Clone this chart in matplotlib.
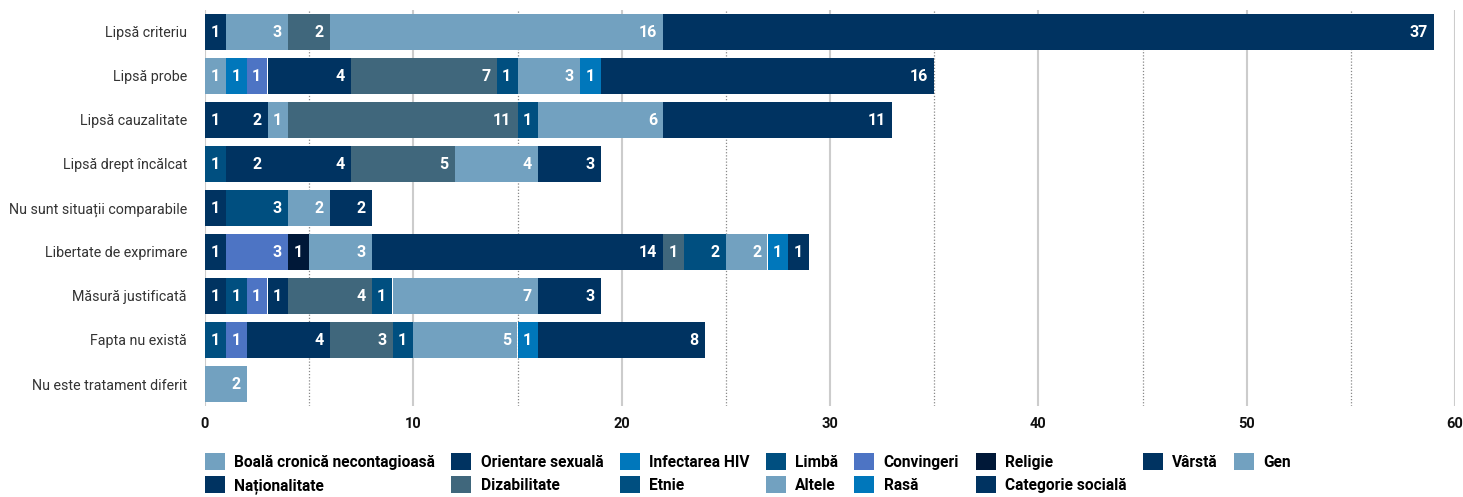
import matplotlib
matplotlib.use("Agg")
import matplotlib.pyplot as plt
from matplotlib.patches import Patch
from matplotlib.font_manager import FontProperties
from matplotlib.textpath import TextPath
import numpy as np

categories = ["Lipsă criteriu", "Lipsă probe", "Lipsă cauzalitate", "Lipsă drept încălcat",
              "Nu sunt situații comparabile", "Libertate de exprimare", "Măsură justificată",
              "Fapta nu există", "Nu este tratament diferit"]

series_names = ["Boală cronică necontagioasă", "Orientare sexuală", "Infectarea HIV", "Limbă",
                "Convingeri", "Religie", "Vârstă", "Gen", "Naționalitate", "Dizabilitate",
                "Etnie", "Altele", "Rasă", "Categorie socială"]

boala = [0, 1, 0, 0, 0, 0, 0, 0, 0]
orientare = [1, 0, 1, 0, 1, 1, 1, 0, 0]
hiv = [0, 1, 0, 0, 0, 0, 0, 0, 0]
limba = [0, 0, 0, 1, 3, 0, 1, 1, 0]
convingeri = [0, 1, 0, 0, 0, 3, 1, 1, 0]
religie = [0, 0, 0, 0, 0, 1, 0, 0, 0]
varsta = [0, 4, 2, 2, 0, 0, 1, 4, 0]
gen = [3, 0, 1, 0, 0, 3, 0, 0, 0]
nationalitate = [0, 0, 0, 4, 0, 14, 0, 0, 0]
dizabilitate = [2, 7, 11, 5, 0, 1, 4, 3, 0]
etnie = [0, 1, 1, 0, 0, 2, 1, 1, 0]
altele = [16, 3, 6, 4, 2, 2, 7, 5, 2]
rasa = [0, 1, 0, 0, 0, 1, 0, 1, 0]
categorie = [37, 16, 11, 3, 2, 1, 3, 8, 0]

series_values = [boala, orientare, hiv, limba, convingeri, religie, varsta, gen,
                 nationalitate, dizabilitate, etnie, altele, rasa, categorie]

LIGHT = "#72a1c0"
NAVY = "#003361"
BRIGHT = "#0077bb"
MED = "#004f80"
PERI = "#4d74c4"
VDARK = "#001838"
SLATE = "#40677c"
colors = [LIGHT, NAVY, BRIGHT, MED, PERI, VDARK, NAVY, LIGHT, NAVY, SLATE, MED, LIGHT, BRIGHT, NAVY]

FONT = "Roboto"
plt.rcParams["font.family"] = [FONT, "DejaVu Sans"]
DPI = 100


def fit_size(text, target_px, weight="normal"):
    # font size (pt) so that text is about target_px wide
    fp = FontProperties(family=FONT, weight=weight, size=10)
    w = TextPath((0, 0), text, prop=fp).get_extents().width  # in points at size 10
    w_px = w * DPI / 72.0
    return 10 * target_px / w_px


ylab_size = fit_size("Nu sunt situații comparabile", 176)
leg_size = fit_size("Boală cronică necontagioasă", 200, weight="bold")

fig = plt.figure(figsize=(14.63, 4.97), dpi=DPI)
ax = fig.add_axes([205 / 1463, 1 - 406 / 497, 1250 / 1463, 396 / 497])

y = np.arange(len(categories))
left = np.zeros(len(categories))
for name, vals, col in zip(series_names, series_values, colors):
    vals = np.array(vals, dtype=float)
    ax.barh(y, vals, left=left, height=0.84, color=col, label=name, zorder=3)
    for yi, (l, v) in enumerate(zip(left, vals)):
        if v > 0:
            ax.text(l + v - 0.3, yi + 0.02, f"{int(v)}", ha="right", va="center", color="white",
                    fontsize=11.5, fontweight="bold", zorder=4)
    left += vals

ax.set_xlim(0, 60)
ax.set_ylim(len(categories) - 0.5, -0.5)
ax.set_yticks(y)
ax.set_yticklabels(categories, fontsize=ylab_size, color="#333333")
ax.set_xticks(np.arange(0, 61, 10))
ax.set_xticklabels([str(v) for v in range(0, 61, 10)], fontsize=10.5, fontweight="bold",
                   color="#111111")
for v in range(0, 61, 10):
    ax.axvline(v, color="#cccccc", lw=1.5, zorder=1)
for v in range(5, 60, 10):
    ax.axvline(v, color="#888888", lw=0.9, ls=(0, (1, 1.5)), zorder=1)
for s in ax.spines.values():
    s.set_visible(False)
ax.tick_params(axis="x", length=0, pad=8)
ax.tick_params(axis="y", length=0, pad=13)

handles = [Patch(facecolor=c, edgecolor="none") for c in colors]
order = [0, 8, 1, 9, 2, 10, 3, 11, 4, 12, 5, 13, 6, 7]
hsize = 20 / (leg_size * DPI / 72.0)
leg = fig.legend([handles[i] for i in order], [series_names[i] for i in order],
                 loc="upper left", bbox_to_anchor=(205 / 1463, 1 - 453 / 497), ncol=8,
                 frameon=False, handlelength=hsize, handleheight=hsize,
                 handletextpad=0.6, columnspacing=1.05, labelspacing=0.4, borderaxespad=0,
                 borderpad=0,
                 prop={"family": [FONT, "DejaVu Sans"], "weight": "bold", "size": leg_size})

fig.savefig("out.png", dpi=DPI)
